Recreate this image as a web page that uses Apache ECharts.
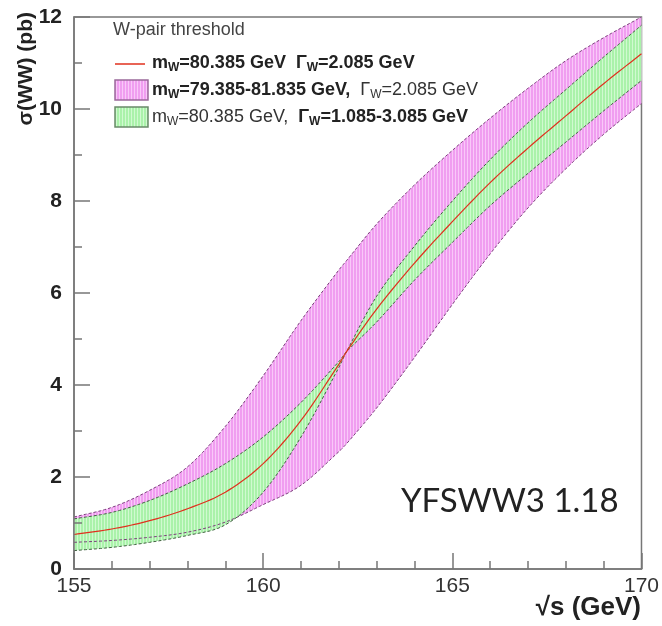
<!DOCTYPE html>
<html>
<head>
<meta charset="utf-8">
<script src="https://cdn.jsdelivr.net/npm/echarts@6/dist/echarts.min.js"></script>
<style>
html, body { margin: 0; padding: 0; background: #fff; }
#chart { width: 662px; height: 626px; }
</style>
</head>
<body>
<div id="chart"></div>
<script>
// sqrt(s) in GeV, the 162.2 point is where the width curves cross
const energy = [155, 156, 157, 158, 159, 160, 161, 162, 162.2, 163, 164, 165, 166, 167, 168, 169, 170]
// mW=80.385, GammaW=2.085
const central = [0.75, 0.87, 1.05, 1.31, 1.67, 2.29, 3.23, 4.45, 4.72, 5.65, 6.65, 7.55, 8.4, 9.15, 9.85, 10.55, 11.2]
// mW=79.385 (upper edge of the mass band)
const massLow = [1.13, 1.34, 1.71, 2.22, 3.1, 4.2, 5.4, 6.5, 6.7, 7.5, 8.35, 9.1, 9.8, 10.45, 11.05, 11.55, 12.0]
// mW=81.835 (lower edge of the mass band)
const massHigh = [0.58, 0.62, 0.69, 0.8, 1.02, 1.4, 1.82, 2.55, 2.72, 3.5, 4.6, 5.75, 6.85, 7.85, 8.7, 9.45, 10.12]
// GammaW=3.085
const widthHigh = [1.09, 1.23, 1.49, 1.85, 2.29, 2.87, 3.62, 4.51, 4.72, 5.37, 6.28, 7.1, 7.9, 8.6, 9.28, 9.96, 10.62]
// GammaW=1.085
const widthLow = [0.4, 0.47, 0.58, 0.73, 0.96, 1.67, 2.87, 4.38, 4.72, 5.93, 7.02, 8.0, 8.9, 9.7, 10.42, 11.13, 11.82]

const xTicks = { min: 155, max: 170, step: 5 }
const yTicks = { min: 0, max: 12, step: 2 }

const fontFamily = '"Liberation Sans", Arial, Helvetica, sans-serif'
const axisColor = '#777'

// ROOT-like vertical hatch fill
const stripes = (base, light) => {
  const c = document.createElement('canvas')
  c.width = 3
  c.height = 4
  const ctx = c.getContext('2d')
  ctx.fillStyle = base
  ctx.fillRect(0, 0, 3, 4)
  ctx.fillStyle = light
  ctx.fillRect(2, 0, 1, 4)
  return { image: c, repeat: 'repeat' }
}
const pinkFill = stripes('rgb(240,158,240)', 'rgb(249,200,249)')
const greenFill = stripes('rgb(170,242,170)', 'rgb(208,250,208)')

// cubic hermite through pixel points, x is monotonic
const smoothCurve = (pts, steps = 10) => {
  const n = pts.length
  const slope = pts.map((p, i) => {
    const a = pts[Math.max(i - 1, 0)]
    const b = pts[Math.min(i + 1, n - 1)]
    return (b[1] - a[1]) / (b[0] - a[0])
  })
  const out = [pts[0]]
  for (let i = 0; i < n - 1; i++) {
    const [x0, y0] = pts[i]
    const [x1, y1] = pts[i + 1]
    const h = x1 - x0
    for (let k = 1; k <= steps; k++) {
      const t = k / steps, t2 = t * t, t3 = t2 * t
      const y = (2 * t3 - 3 * t2 + 1) * y0 + (t3 - 2 * t2 + t) * h * slope[i] +
        (-2 * t3 + 3 * t2) * y1 + (t3 - t2) * h * slope[i + 1]
      out.push([x0 + h * t, y])
    }
  }
  return out
}

const toPixels = (api, ys) => smoothCurve(energy.map((x, i) => api.coord([x, ys[i]])))

const band = (name, a, b, fill, z) => ({
  name, type: 'custom', z, silent: true, clip: true,
  data: [[energy[0], a[0]]],
  renderItem: (params, api) => {
    const up = toPixels(api, a)
    const lo = toPixels(api, b).reverse()
    return { type: 'polygon', shape: { points: up.concat(lo) }, style: { fill } }
  }
})

const curve = (name, ys, stroke, width, dash, z) => ({
  name, type: 'custom', z, silent: true, clip: true,
  data: [[energy[0], ys[0]]],
  renderItem: (params, api) => ({
    type: 'polyline',
    shape: { points: toPixels(api, ys) },
    style: { stroke, lineWidth: width, lineDash: dash, fill: null }
  })
})

const chart = echarts.init(document.getElementById('chart'))

chart.setOption({
  animation: false,
  backgroundColor: '#fff',
  grid: { left: 74, right: 19, top: 17, bottom: 57, show: true, borderColor: axisColor, borderWidth: 1.5, backgroundColor: 'transparent' },
  xAxis: {
    type: 'value', min: xTicks.min, max: xTicks.max, interval: xTicks.step, z: 10,
    axisLine: { lineStyle: { color: axisColor, width: 1.5 } },
    axisTick: { inside: true, length: 16, lineStyle: { color: axisColor, width: 1.5 } },
    minorTick: { show: true, splitNumber: 5, length: 8, lineStyle: { color: axisColor, width: 1.5 } },
    splitLine: { show: false },
    axisLabel: { color: '#333', fontSize: 21, fontFamily, margin: 7 }
  },
  yAxis: {
    type: 'value', min: yTicks.min, max: yTicks.max, interval: yTicks.step, z: 10,
    axisLine: { show: true, lineStyle: { color: axisColor, width: 1.5 } },
    axisTick: { show: true, inside: true, length: 16, lineStyle: { color: axisColor, width: 1.5 } },
    minorTick: { show: true, splitNumber: 2, length: 8, lineStyle: { color: axisColor, width: 1.5 } },
    splitLine: { show: false },
    axisLabel: { color: '#222', fontSize: 21, fontWeight: 'bold', fontFamily, margin: 12 }
  },
  series: [
    band('mass band', massLow, massHigh, pinkFill, 1),
    band('width band', widthHigh, widthLow, greenFill, 2),
    curve('mW=79.385', massLow, '#7b3f7b', 1, [3, 2], 3),
    curve('mW=81.835', massHigh, '#7b3f7b', 1, [3, 2], 3),
    curve('GammaW=3.085', widthHigh, '#3f5f3f', 1, [3, 2], 4),
    curve('GammaW=1.085', widthLow, '#3f5f3f', 1, [3, 2], 4),
    curve('central', central, '#e0301e', 1.2, null, 5)
  ],
  graphic: [
    {
      type: 'text', x: 113, y: 30, z: 20,
      style: { text: 'W-pair threshold', fill: '#444', font: '18px ' + fontFamily, verticalAlign: 'middle' }
    },
    {
      type: 'line', z: 20, shape: { x1: 115, y1: 64, x2: 145, y2: 64 },
      style: { stroke: '#e0301e', lineWidth: 1.5 }
    },
    {
      type: 'rect', z: 20, shape: { x: 115, y: 80, width: 33, height: 20 },
      style: { fill: pinkFill, stroke: '#9a6a9a', lineWidth: 1.5 }
    },
    {
      type: 'rect', z: 20, shape: { x: 115, y: 107, width: 33, height: 20 },
      style: { fill: greenFill, stroke: '#6a8a6a', lineWidth: 1.5 }
    },
    ...[
      { y: 63, text: '{b|m}{bs|W}{b|=80.385 GeV  Γ}{bs|W}{b|=2.085 GeV}' },
      { y: 90, text: '{b|m}{bs|W}{b|=79.385-81.835 GeV,  }{n|Γ}{ns|W}{n|=2.085 GeV}' },
      { y: 117, text: '{n|m}{ns|W}{n|=80.385 GeV,  }{b|Γ}{bs|W}{b|=1.085-3.085 GeV}' }
    ].map(row => ({
      type: 'text', x: 152, y: row.y, z: 20,
      style: {
        text: row.text, verticalAlign: 'middle',
        rich: {
          b: { fontSize: 18, fontWeight: 'bold', fontFamily, fill: '#222', lineHeight: 22 },
          n: { fontSize: 18, fontFamily, fill: '#333', lineHeight: 22 },
          bs: { fontSize: 12, fontWeight: 'bold', fontFamily, fill: '#222', lineHeight: 14, verticalAlign: 'bottom' },
          ns: { fontSize: 12, fontFamily, fill: '#333', lineHeight: 14, verticalAlign: 'bottom' }
        }
      }
    })),
    {
      type: 'text', x: 26, y: 12, rotation: Math.PI / 2, z: 20,
      style: { text: 'σ(WW) (pb)', fill: '#222', font: 'bold 21px ' + fontFamily, align: 'right', verticalAlign: 'middle' }
    },
    {
      type: 'text', x: 641, y: 608, z: 20,
      style: { text: '√s (GeV)', fill: '#222', font: 'bold 26px ' + fontFamily, align: 'right', verticalAlign: 'middle' }
    },
    {
      type: 'text', x: 401, y: 501, z: 20,
      style: { text: 'YFSWW3 1.18', fill: '#222', font: '33px Lato, "Open Sans", sans-serif', verticalAlign: 'middle' }
    }
  ]
})
</script>
</body>
</html>
